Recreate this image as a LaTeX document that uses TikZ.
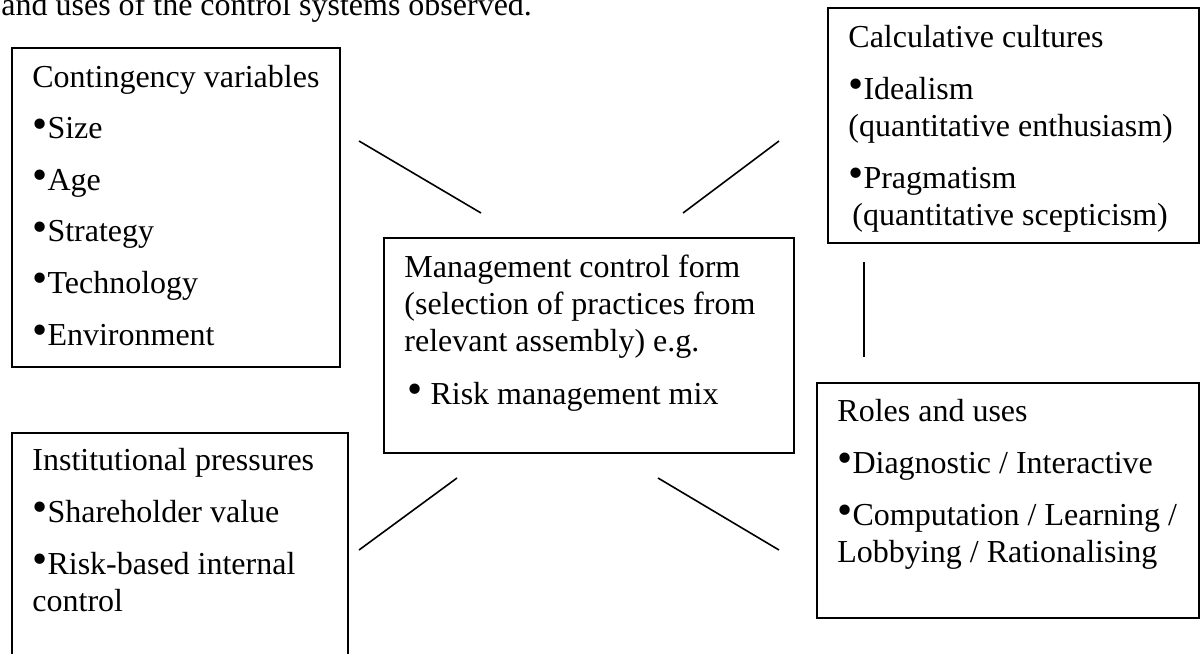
\documentclass[tikz,border=0pt]{standalone}
\usepackage{fontspec}
\setmainfont{Liberation Serif}
\usepackage{graphicx}
\usetikzlibrary{calc,positioning}

\newcommand{\bul}{\raisebox{0.3pt}{\scalebox{1.35}{•}}}

\begin{document}
\begin{tikzpicture}[x=0.5pt, y=-0.5pt,
    box/.style={draw, line width=1pt, anchor=north west, inner sep=0pt},
    txt/.style={anchor=base west, align=left, inner sep=0pt, font=\fontsize{16pt}{18.5pt}\selectfont},
    link/.style={line width=0.8pt}]
    \useasboundingbox (0,0) rectangle (1203,653);
    \clip (0,0) rectangle (1203,653);

    % Running text, cut off at the top
    \node[txt] (caption) at (1,15) {and uses of the control systems observed.};

    % Boxes
    \node[box, minimum width=164pt, minimum height=159.5pt] (cv) at (11,47) {};
    \node[box, minimum width=185.5pt, minimum height=117.5pt] (cc) at (827,7) {};
    \node[box, minimum width=205pt, minimum height=107.5pt] (mcf) at (383,237) {};
    \node[box, minimum width=191pt, minimum height=117.5pt] (ru) at (816,382) {};
    \node[box, minimum width=168pt, minimum height=134pt] (ip) at (11,432) {};

    % Box texts (placed by the baseline of their last line)
    \node[txt] (cvtext) at ($(cv.north west)+(21,298)$) {Contingency variables\\[7.3pt]
        \bul Size\\[7.3pt] \bul Age\\[7.3pt] \bul Strategy\\[7.3pt]
        \bul Technology\\[7.3pt] \bul Environment};
    \node[txt] (cctext) at ($(cc.north west)+(21,218)$) {Calculative cultures\\[7.5pt]
        \bul Idealism\\ (quantitative enthusiasm)\\[7.5pt]
        \bul Pragmatism\\ \hspace{2pt}(quantitative scepticism)};
    \node[txt] (mcftext) at ($(mcf.north west)+(21,167)$) {Management control form\\
        (selection of practices from\\ relevant assembly) e.g.\\[8pt]
        \hspace{1.5pt}\bul\ Risk management mix};
    \node[txt] (rutext) at ($(ru.north west)+(21,180)$) {Roles and uses\\[7.5pt]
        \bul Diagnostic / Interactive\\[7.5pt]
        \bul Computation / Learning /\\ Lobbying / Rationalising};
    \node[txt] (iptext) at ($(ip.north west)+(21,179)$) {Institutional pressures\\[7.5pt]
        \bul Shareholder value\\[7.5pt]
        \bul Risk-based internal\\ control};

    % Connectors in the gaps
    \coordinate (cvA) at (359,141);  \coordinate (cvB) at (481,213);
    \coordinate (ccA) at (683,213);  \coordinate (ccB) at (779,141);
    \coordinate (ipA) at (359,550);  \coordinate (ipB) at (457,478);
    \coordinate (ruA) at (658,478);  \coordinate (ruB) at (779,550);
    \coordinate (vA) at (864,262);   \coordinate (vB) at (864,357);
    \draw[link] (cvA) -- (cvB);
    \draw[link] (ccA) -- (ccB);
    \draw[link] (ipA) -- (ipB);
    \draw[link] (ruA) -- (ruB);
    \draw[link] (vA) -- (vB);
\end{tikzpicture}
\end{document}
